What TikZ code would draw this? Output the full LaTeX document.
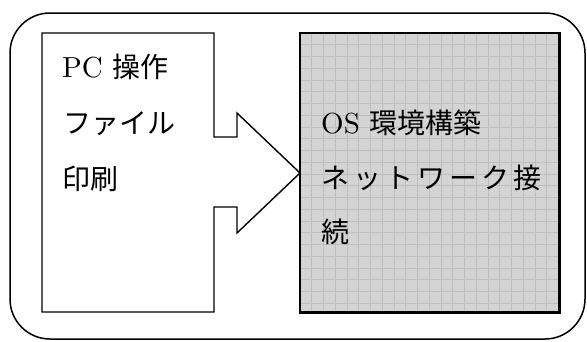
\documentclass[tikz,border=0pt]{standalone}
\usepackage{fontspec}
\usetikzlibrary{calc}
\setmainfont{lmroman10-regular.otf}
\newfontfamily\jpfont{Noto Sans CJK JP}
\newcommand{\jp}{\jpfont\fontsize{28}{28}\selectfont}
\definecolor{boxfill}{RGB}{212,212,212}
\definecolor{gridline}{RGB}{190,190,190}
\tikzset{
  txt/.style={anchor=base west, inner sep=0pt, font=\fontsize{29}{29}\selectfont},
  frame/.style={line width=1.5pt, rounded corners=40pt},
  arrowbox/.style={line width=1.4pt, line join=miter}
}
\begin{document}
\begin{tikzpicture}[x=1pt,y=-1pt]
\useasboundingbox (0,0) rectangle (587,341);
% outer rounded frame
\draw[frame] (10,13) rectangle (585,339);
% right grey box with grid
\node[draw=none, fill=boxfill, minimum width=259pt, minimum height=279pt, inner sep=0pt, anchor=north west] (box) at (300,33) {};
\foreach \i in {1,...,22} {
  \draw[gridline, line width=0.7pt] ($(box.north west)+(\i*11.75,0)$) -- ($(box.south west)+(\i*11.75,0)$);
}
\foreach \j in {1,...,23} {
  \draw[gridline, line width=0.7pt] ($(box.north west)+(0,\j*11.75)$) -- ($(box.north east)+(0,\j*11.75)$);
}
\draw[line width=2.2pt] (box.north west) rectangle (box.south east);
% left box with arrow
\draw[arrowbox] (42,33) -- (214,33) -- (214,137) -- (237,137) -- (237,113)
  -- (300,173) -- (237,233) -- (237,207) -- (214,207) -- (214,312)
  -- (42,312) -- cycle;
% texts
\node[txt] (l1) at (62,77) {PC\hspace{10pt}{\jp 操作}};
\node[txt] (l2) at (63,133) {\jp ファイル};
\node[txt] (l3) at (62,189) {\jp 印刷};
\node[txt] (r1) at (321,133) {OS\hspace{10pt}{\jp 環境構築}};
\node[txt] (r2) at (321,188) {\jp ネ\kern4ptッ\kern4ptト\kern4ptワ\kern4ptー\kern4ptク\kern4pt接};
\node[txt] (r3) at (321,242) {\jp 続};
\end{tikzpicture}
\end{document}
